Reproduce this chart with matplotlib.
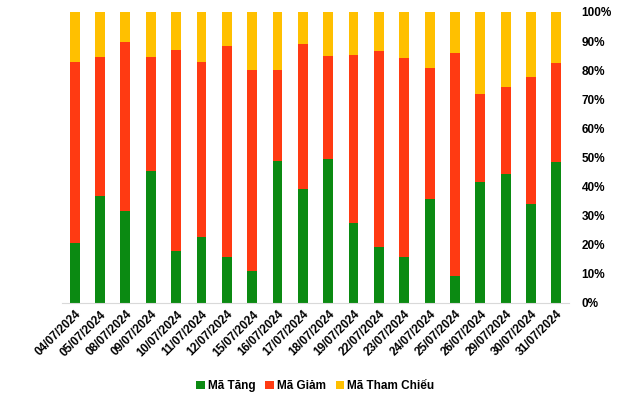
import numpy as np
import matplotlib.pyplot as plt
from matplotlib.ticker import PercentFormatter

plt.rcParams['font.family'] = ['Liberation Sans', 'DejaVu Sans']

# Dữ liệu
dates = ['04/07/2024', '05/07/2024', '08/07/2024', '09/07/2024', '10/07/2024',
         '11/07/2024', '12/07/2024', '15/07/2024', '16/07/2024', '17/07/2024',
         '18/07/2024', '19/07/2024', '22/07/2024', '23/07/2024', '24/07/2024',
         '25/07/2024', '26/07/2024', '29/07/2024', '30/07/2024', '31/07/2024']
tang = [20.6, 36.8, 31.6, 45.4, 17.9, 22.7, 15.8, 11.0, 48.8, 39.2,
        49.5, 27.5, 19.2, 15.8, 35.7, 9.3, 41.6, 44.4, 34.1, 48.5]
giam = [62.2, 47.7, 58.1, 39.1, 69.0, 60.1, 72.5, 69.1, 31.3, 49.8,
        35.4, 57.7, 67.4, 68.4, 45.1, 76.6, 30.2, 29.8, 43.6, 34.0]
tham_chieu = [100 - a - b for a, b in zip(tang, giam)]

fig = plt.figure(figsize=(6.4, 3.97), dpi=100)
ax = fig.add_axes([0.097, 0.237, 0.792, 0.733])

x = np.arange(len(dates))
w = 0.39
ax.bar(x, tang, w, color='#0B8A12', label='Mã Tăng')
ax.bar(x, giam, w, bottom=tang, color='#FF3A12', label='Mã Giảm')
ax.bar(x, tham_chieu, w, bottom=np.add(tang, giam), color='#FFC000', label='Mã Tham Chiếu')

ax.set_xlim(-0.5, len(dates) - 0.5)
ax.set_ylim(0, 100)
ax.set_yticks(np.arange(0, 101, 10))
ax.yaxis.set_major_formatter(PercentFormatter(decimals=0))
ax.yaxis.tick_right()
ax.tick_params(axis='y', length=0, pad=9, labelsize=8.5)
ax.tick_params(axis='x', length=0, pad=4, labelsize=8.5)
for lab in ax.get_yticklabels():
    lab.set_fontweight('bold')

ax.set_xticks(x)
ax.set_xticklabels(dates, rotation=45, ha='right', rotation_mode='anchor', fontweight='bold')

for s in ['top', 'left', 'right']:
    ax.spines[s].set_visible(False)
ax.spines['bottom'].set_color('#D9D9D9')

ax.legend(loc='upper center', bbox_to_anchor=(0.5, -0.23), ncol=3, frameon=False,
          handlelength=0.7, handleheight=0.7, handletextpad=0.3, columnspacing=0.8,
          prop={'weight': 'bold', 'size': 8.5})

fig.savefig('out.png', dpi=100)
